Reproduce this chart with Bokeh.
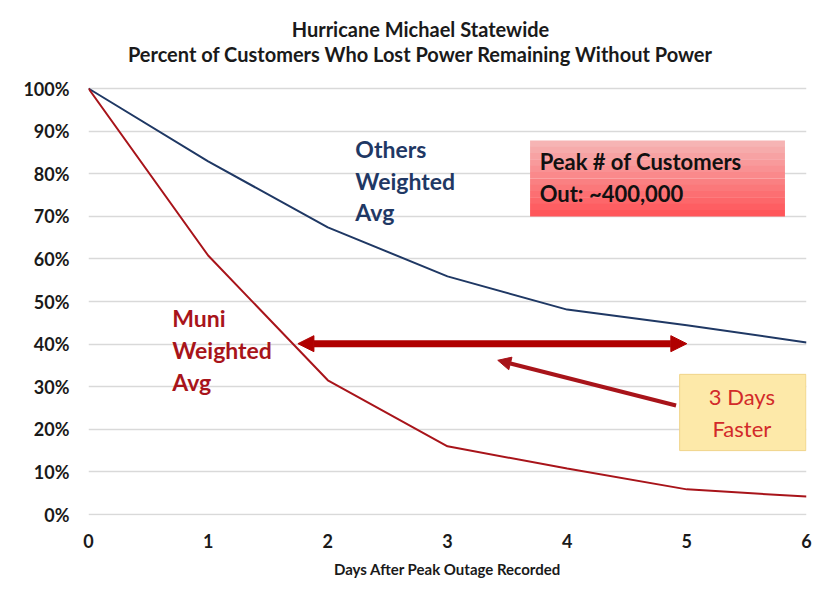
from bokeh.plotting import figure
from bokeh.models import (Range1d, Label, Arrow, NormalHead, FixedTicker,
                          CustomJSTickFormatter)
from bokeh.embed import file_html
from bokeh.resources import INLINE

days = [0, 1, 2, 3, 4, 5, 6]
others_pct = [100, 82.9, 67.4, 55.9, 48.1, 44.4, 40.4]
muni_pct = [100, 60.8, 31.5, 16.0, 10.8, 5.9, 4.2]
y_ticks = [0, 10, 20, 30, 40, 50, 60, 70, 80, 90, 100]

title_lines = ["Hurricane Michael Statewide",
               "Percent of Customers Who Lost Power Remaining Without Power"]
x_label = "Days After Peak Outage Recorded"
others_label = ["Others", "Weighted", "Avg"]
muni_label = ["Muni", "Weighted", "Avg"]
peak_text = ["Peak # of Customers", "Out: ~400,000"]
faster_text = ["3 Days", "Faster"]

FONT = "Lato"
NAVY = "#1f3864"
RED = "#a8141a"

# frame spans the whole top area so the two title lines can live inside it
PX_PER_UNIT = 4.26
p = figure(width=812, height=581, output_backend="svg", toolbar_location=None,
           x_range=Range1d(0, 6),
           y_range=Range1d(-1 / PX_PER_UNIT, 100 + 88 / PX_PER_UNIT),
           min_border_left=88, min_border_right=6, min_border_top=0,
           min_border_bottom=66)
p.outline_line_color = None
p.background_fill_color = "white"
p.border_fill_color = "white"

p.xgrid.grid_line_color = None
p.ygrid.grid_line_color = "#d9d9d9"
p.ygrid.grid_line_width = 1.5
p.yaxis.ticker = FixedTicker(ticks=y_ticks)
p.xaxis.ticker = FixedTicker(ticks=days)
p.yaxis.formatter = CustomJSTickFormatter(code="return tick.toFixed(0) + '%';")
for ax in (p.xaxis, p.yaxis):
    ax.axis_line_color = None
    ax.major_tick_line_color = None
    ax.minor_tick_line_color = None
    ax.major_label_text_font = FONT
    ax.major_label_text_font_style = "bold"
    ax.major_label_text_font_size = "18px"
    ax.major_label_text_color = "#1a1a1a"
p.yaxis.major_label_standoff = 13
p.xaxis.major_label_standoff = 12
p.xaxis.axis_label = x_label
p.xaxis.axis_label_text_font = FONT
p.xaxis.axis_label_text_font_style = "bold"
p.xaxis.axis_label_text_font_size = "15px"
p.xaxis.axis_label_text_color = "#1a1a1a"
p.xaxis.axis_label_standoff = 9

p.line(days, others_pct, line_color=NAVY, line_width=2)
p.line(days, muni_pct, line_color=RED, line_width=2)

# titles
for txt, yy in zip(title_lines, [113.85, 108.2]):
    p.add_layout(Label(x=2.774, y=yy, text=txt, text_align="center",
                       text_baseline="middle", text_font=FONT,
                       text_font_style="bold", text_font_size="20px",
                       text_color="#1a1a1a"))

# series labels
for txt, yy in zip(others_label, [85.9, 78.4, 70.9]):
    p.add_layout(Label(x=2.23, y=yy, text=txt, text_baseline="middle",
                       text_font=FONT, text_font_style="bold",
                       text_font_size="23px", text_color=NAVY))
for txt, yy in zip(muni_label, [46.2, 38.7, 31.2]):
    p.add_layout(Label(x=0.70, y=yy, text=txt, text_baseline="middle",
                       text_font=FONT, text_font_style="bold",
                       text_font_size="23px", text_color=RED))

# red gradient box
n = 12
top, bot = 87.8, 70.0
c0 = (246, 180, 180)
c1 = (255, 86, 90)
for i in range(n):
    t = i / (n - 1)
    col = "#%02x%02x%02x" % tuple(int(c0[k] + (c1[k] - c0[k]) * t) for k in range(3))
    y_hi = top - (top - bot) * i / n
    y_lo = top - (top - bot) * (i + 1) / n
    p.quad(left=3.69, right=5.82, top=y_hi, bottom=y_lo - 0.05,
           fill_color=col, line_color=None)
for txt, yy in zip(peak_text, [82.9, 75.4]):
    p.add_layout(Label(x=3.77, y=yy, text=txt, text_baseline="middle",
                       text_font=FONT, text_font_style="bold",
                       text_font_size="22px", text_color="#111111"))

# yellow box
p.quad(left=4.94, right=5.995, top=32.9, bottom=15.0,
       fill_color="#fde9a9", line_color="#f0d48a", line_width=1)
for txt, yy in zip(faster_text, [27.7, 20.2]):
    p.add_layout(Label(x=5.46, y=yy, text=txt, text_align="center",
                       text_baseline="middle", text_font=FONT,
                       text_font_size="22px", text_color="#d22a2a"))

# arrows
p.add_layout(Arrow(x_start=1.75, y_start=40.1, x_end=5.0, y_end=40.1,
                   line_color="#b00000", line_width=7,
                   start=NormalHead(size=16, fill_color="#b00000", line_color="#b00000"),
                   end=NormalHead(size=16, fill_color="#b00000", line_color="#b00000")))
p.add_layout(Arrow(x_start=4.91, y_start=25.6, x_end=3.42, y_end=36.2,
                   line_color="#a8141a", line_width=4,
                   end=NormalHead(size=13, fill_color="#a8141a", line_color="#a8141a")))

open("out.html", "w").write(file_html(p, INLINE))
